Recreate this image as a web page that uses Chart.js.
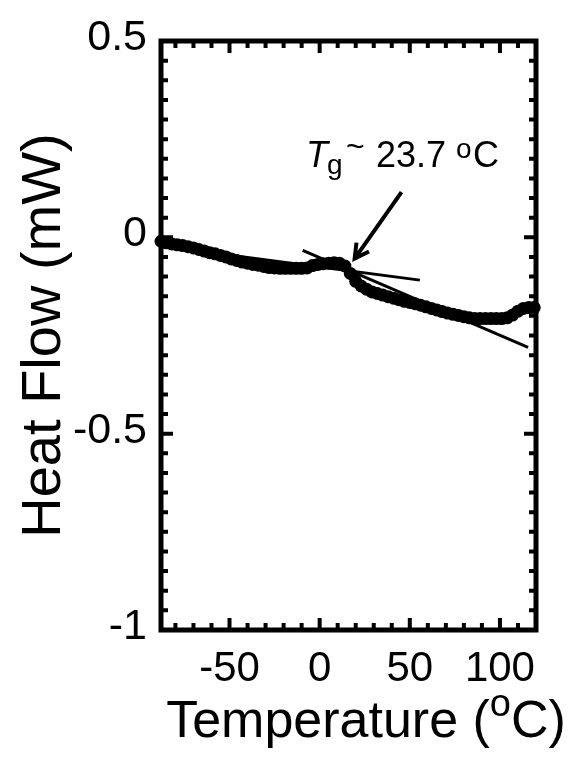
<!DOCTYPE html>
<html>
<head>
<meta charset="utf-8">
<script src="https://cdn.jsdelivr.net/npm/chart.js@4.4.0/dist/chart.umd.min.js"></script>
<style>
  html, body { margin: 0; padding: 0; background: #fff; }
  #wrap { width: 574px; height: 762px; }
</style>
</head>
<body>
<div id="wrap"><canvas id="dsc" width="574" height="762"></canvas></div>
<script>
const FONT = '"Liberation Sans", Arial, Helvetica, sans-serif';

// DSC heating trace
const temperature = [
    -88, -85, -82, -79, -76, -73, -70, -67, -64, -61,
    -58, -55, -52, -49, -46, -43, -40, -37, -34, -31,
    -28, -25, -22, -19, -16, -13, -10, -7, -4, -1,
    2, 5, 8, 11, 14, 17, 20, 23, 26, 29,
    32, 35, 38, 41, 44, 47, 50, 53, 56, 59,
    62, 65, 68, 71, 74, 77, 80, 83, 86, 89,
    92, 95, 98, 101, 104, 107, 110, 113, 116, 119
];
const heatFlow = [
    -0.010, -0.014, -0.017, -0.019, -0.021, -0.024, -0.027, -0.031, -0.035, -0.039,
    -0.042, -0.046, -0.050, -0.055, -0.059, -0.063, -0.066, -0.069, -0.071, -0.074,
    -0.077, -0.078, -0.079, -0.079, -0.079, -0.079, -0.079, -0.078, -0.072, -0.069,
    -0.067, -0.066, -0.065, -0.066, -0.073, -0.092, -0.112, -0.124, -0.132, -0.139,
    -0.143, -0.147, -0.151, -0.155, -0.159, -0.163, -0.166, -0.169, -0.173, -0.177,
    -0.181, -0.185, -0.189, -0.193, -0.196, -0.199, -0.202, -0.205, -0.207, -0.207,
    -0.207, -0.207, -0.207, -0.207, -0.205, -0.198, -0.188, -0.181, -0.179, -0.179
];

// tangents used to locate Tg
const baselineTangentX = [-60, 55.6];
const baselineTangentY = [-0.039, -0.109];
const stepTangentX = [-9.4, 115.6];
const stepTangentY = [-0.033, -0.280];

// arrow from the Tg label down to the step
const arrowX = [45.4, 19.4];
const arrowY = [0.115, -0.054];

// axes
const xRange = [-88, 120];
const yRange = [-1, 0.5];
const xMajorTicks = [-50, 0, 50, 100];
const xMinorTicks = [-80, -70, -60, -40, -30, -20, -10, 10, 20, 30, 40, 60, 70, 80, 90, 110];
const yMajorTicks = [-1, -0.5, 0, 0.5];
const yMinorTicks = [0.45, 0.4, 0.35, 0.3, 0.25, 0.2, 0.15, 0.1, 0.05,
    -0.05, -0.1, -0.15, -0.2, -0.25, -0.3, -0.35, -0.4, -0.45,
    -0.55, -0.6, -0.65, -0.7, -0.75, -0.8, -0.85, -0.9, -0.95];

const toPoints = (xs, ys) => xs.map((v, i) => ({ x: v, y: ys[i] }));

// box frame with inward ticks, axis titles and the Tg note
const framePlugin = {
    id: 'frame',
    afterDraw(chart) {
        const { ctx, chartArea: a, scales: { x, y } } = chart;
        ctx.save();
        ctx.strokeStyle = '#000';
        ctx.fillStyle = '#000';
        ctx.lineCap = 'butt';

        ctx.lineWidth = 4;
        const ticksX = (vals, len) => vals.forEach(v => {
            const px = x.getPixelForValue(v);
            ctx.beginPath();
            ctx.moveTo(px, a.bottom); ctx.lineTo(px, a.bottom - len);
            ctx.moveTo(px, a.top); ctx.lineTo(px, a.top + len);
            ctx.stroke();
        });
        const ticksY = (vals, len) => vals.forEach(v => {
            const py = y.getPixelForValue(v);
            ctx.beginPath();
            ctx.moveTo(a.left, py); ctx.lineTo(a.left + len, py);
            ctx.moveTo(a.right, py); ctx.lineTo(a.right - len, py);
            ctx.stroke();
        });
        ticksX(xMajorTicks, 12);
        ticksX(xMinorTicks, 7);
        ticksY(yMajorTicks, 12);
        ticksY(yMinorTicks, 7);

        ctx.lineWidth = 5;
        ctx.strokeRect(a.left, a.top, a.right - a.left, a.bottom - a.top);

        // arrow
        const x0 = x.getPixelForValue(arrowX[0]), y0 = y.getPixelForValue(arrowY[0]);
        const x1 = x.getPixelForValue(arrowX[1]), y1 = y.getPixelForValue(arrowY[1]);
        const ang = Math.atan2(y0 - y1, x0 - x1);
        ctx.lineWidth = 4;
        ctx.beginPath();
        ctx.moveTo(x0, y0); ctx.lineTo(x1, y1);
        ctx.moveTo(x1 + 16 * Math.cos(ang - 0.5), y1 + 16 * Math.sin(ang - 0.5));
        ctx.lineTo(x1, y1);
        ctx.lineTo(x1 + 16 * Math.cos(ang + 0.5), y1 + 16 * Math.sin(ang + 0.5));
        ctx.stroke();

        // Tg note
        ctx.textBaseline = 'alphabetic';
        ctx.textAlign = 'left';
        ctx.font = 'italic 36px ' + FONT;
        ctx.fillText('T', 306, 167);
        ctx.font = '28px ' + FONT;
        ctx.fillText('g', 327, 174);
        ctx.font = '32px ' + FONT;
        ctx.fillText('~', 346, 157);
        ctx.font = '36px ' + FONT;
        ctx.fillText('23.7', 376, 167);
        ctx.font = '28px ' + FONT;
        ctx.fillText('o', 456, 158);
        ctx.font = '36px ' + FONT;
        ctx.fillText('C', 473, 167);

        // y title
        ctx.save();
        ctx.font = '56px ' + FONT;
        ctx.textAlign = 'center';
        ctx.translate(60, (a.top + a.bottom) / 2);
        ctx.rotate(-Math.PI / 2);
        ctx.fillText('Heat Flow (mW)', 0, 0);
        ctx.restore();

        // x title with superscript o
        const main = '52px ' + FONT, sup = '38px ' + FONT;
        ctx.font = main;
        const w1 = ctx.measureText('Temperature (').width;
        const w3 = ctx.measureText('C)').width;
        ctx.font = sup;
        const w2 = ctx.measureText('o').width;
        let tx = 366 - (w1 + w2 + w3) / 2;
        const base = 737;
        ctx.font = main;
        ctx.fillText('Temperature (', tx, base);
        tx += w1;
        ctx.font = sup;
        ctx.fillText('o', tx, base - 21);
        tx += w2;
        ctx.font = main;
        ctx.fillText('C)', tx, base);

        ctx.restore();
    }
};

new Chart(document.getElementById('dsc'), {
    type: 'scatter',
    data: {
        datasets: [
            {
                data: toPoints(temperature, heatFlow),
                showLine: true,
                borderColor: '#000',
                backgroundColor: '#000',
                borderWidth: 8,
                pointRadius: 6.5,
                pointBorderWidth: 0,
                clip: false
            },
            {
                data: toPoints(baselineTangentX, baselineTangentY),
                showLine: true,
                borderColor: '#000',
                borderWidth: 3,
                pointRadius: 0
            },
            {
                data: toPoints(stepTangentX, stepTangentY),
                showLine: true,
                borderColor: '#000',
                borderWidth: 3,
                pointRadius: 0
            }
        ]
    },
    options: {
        responsive: false,
        animation: false,
        devicePixelRatio: 1,
        events: [],
        layout: { padding: { top: 41, right: 38, left: 0, bottom: 0 } },
        plugins: {
            legend: { display: false },
            tooltip: { enabled: false }
        },
        scales: {
            x: {
                type: 'linear',
                min: xRange[0],
                max: xRange[1],
                grid: { display: false, drawTicks: false },
                border: { display: false },
                afterBuildTicks: s => { s.ticks = xMajorTicks.map(v => ({ value: v })); },
                afterFit: s => { s.height = 132; },
                ticks: {
                    font: { family: FONT, size: 42 },
                    color: '#000',
                    padding: 14,
                    maxRotation: 0,
                    autoSkip: false
                }
            },
            y: {
                type: 'linear',
                min: yRange[0],
                max: yRange[1],
                grid: { display: false, drawTicks: false },
                border: { display: false },
                afterBuildTicks: s => { s.ticks = yMajorTicks.map(v => ({ value: v })); },
                afterFit: s => { s.width = 161; },
                ticks: {
                    font: { family: FONT, size: 43 },
                    color: '#000',
                    padding: 14,
                    labelOffset: -3,
                    autoSkip: false,
                    callback: v => String(v)
                }
            }
        }
    },
    plugins: [framePlugin]
});
</script>
</body>
</html>
